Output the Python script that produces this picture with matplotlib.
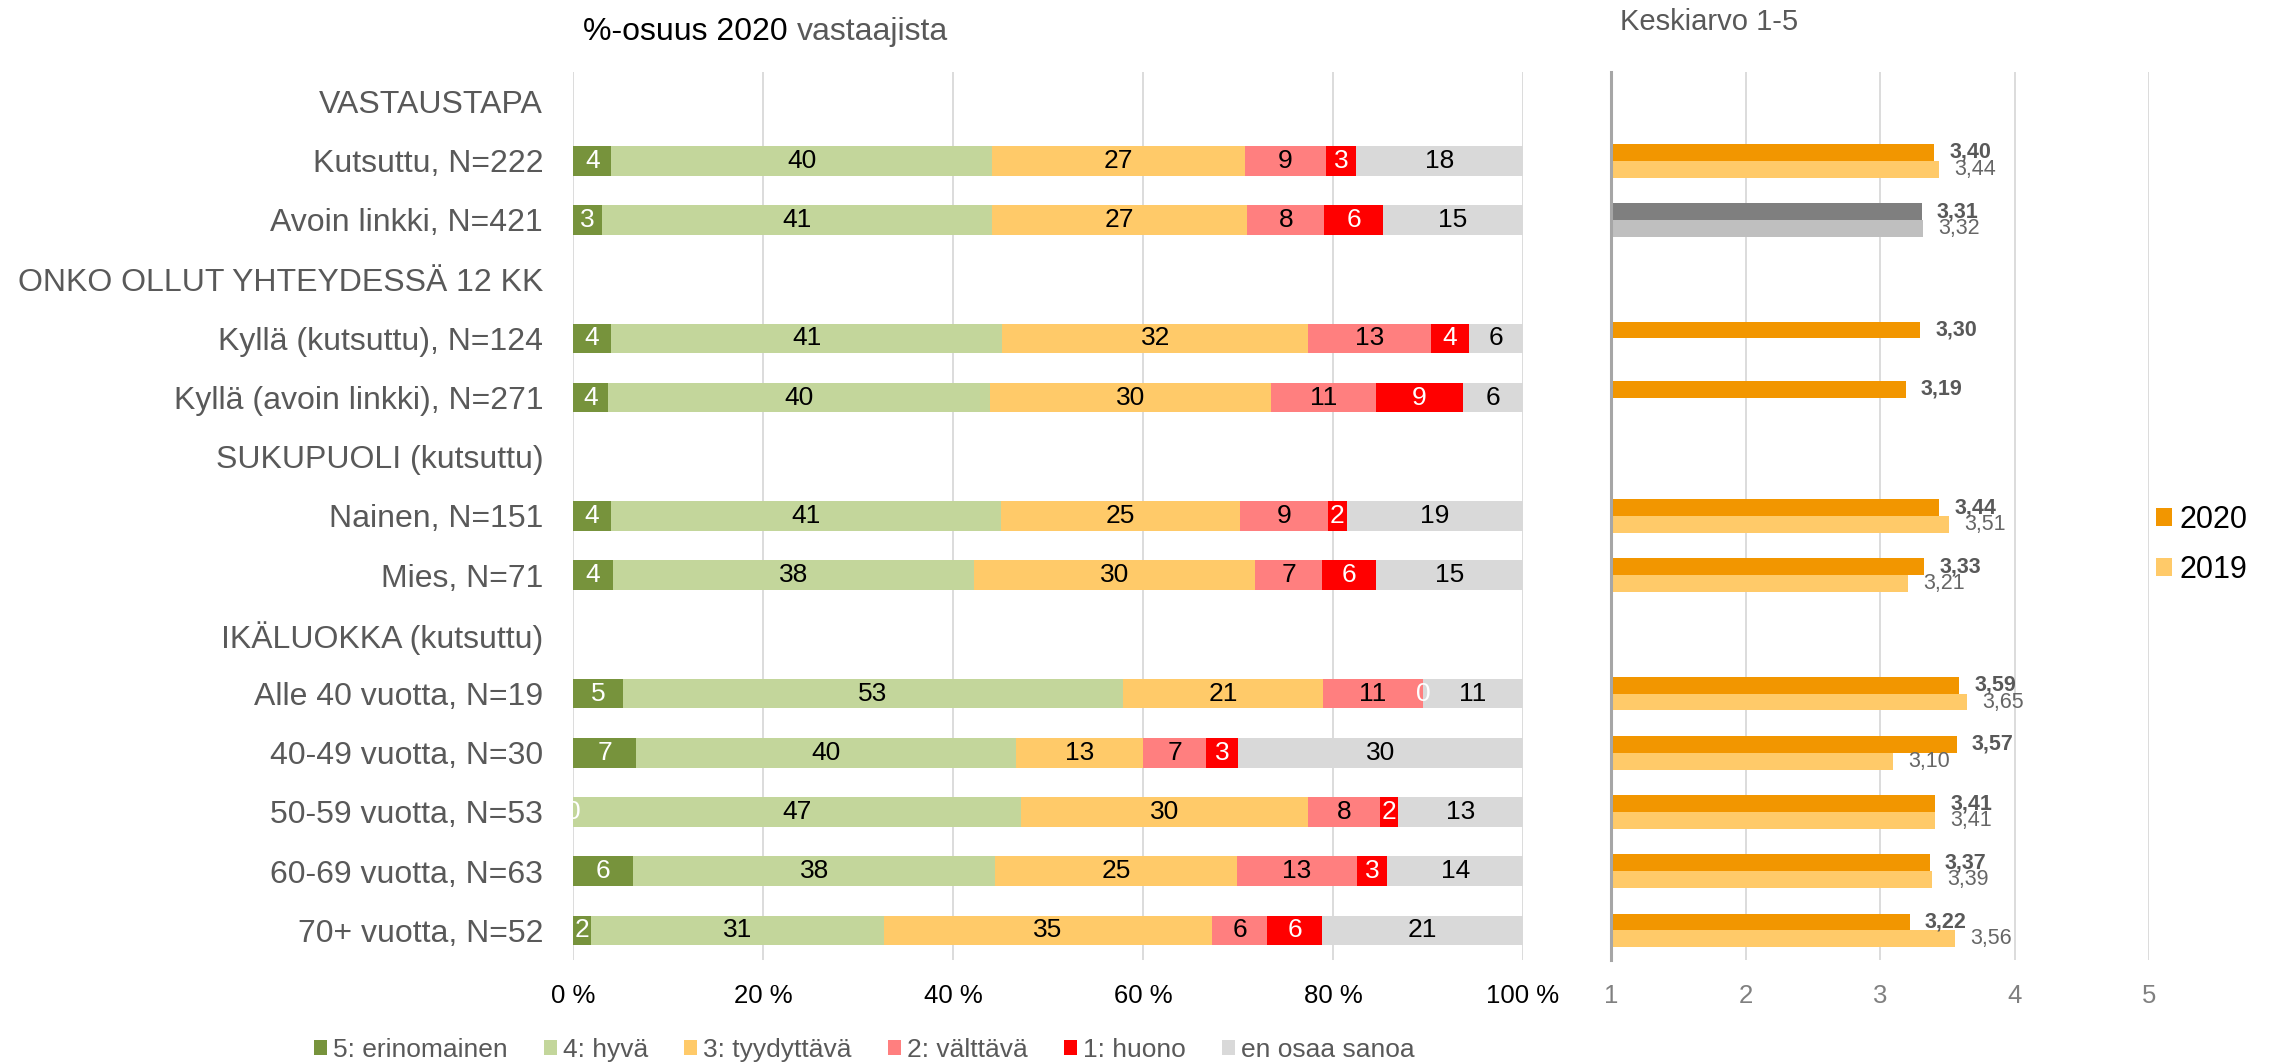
import numpy as np
import matplotlib
matplotlib.use("Agg")
import matplotlib.pyplot as plt
from matplotlib.patches import Patch

plt.rcParams['font.family'] = ['Liberation Sans', 'DejaVu Sans']

# ---------------- data ----------------
row_labels = ["VASTAUSTAPA", "Kutsuttu, N=222", "Avoin linkki, N=421",
              "ONKO OLLUT YHTEYDESSÄ 12 KK", "Kyllä (kutsuttu), N=124",
              "Kyllä (avoin linkki), N=271", "SUKUPUOLI (kutsuttu)",
              "Nainen, N=151", "Mies, N=71", "IKÄLUOKKA (kutsuttu)",
              "Alle 40 vuotta, N=19", "40-49 vuotta, N=30", "50-59 vuotta, N=53",
              "60-69 vuotta, N=63", "70+ vuotta, N=52"]
header_rows = ["VASTAUSTAPA", "ONKO OLLUT YHTEYDESSÄ 12 KK",
               "SUKUPUOLI (kutsuttu)", "IKÄLUOKKA (kutsuttu)"]
categories = [r for r in row_labels if r not in header_rows]

series_names = ["5: erinomainen", "4: hyvä", "3: tyydyttävä", "2: välttävä",
                "1: huono", "en osaa sanoa"]
erinomainen = [4.05, 3.09, 4.03, 3.69, 3.97, 4.23, 5.26, 6.67, 0.0, 6.35, 1.92]
hyva = [40.09, 41.0, 41.13, 40.22, 41.06, 38.03, 52.63, 40.00, 47.17, 38.10, 30.77]
tyydyttava = [26.58, 26.9, 32.26, 29.52, 25.17, 29.58, 21.05, 13.33, 30.19, 25.40, 34.62]
valttava = [8.56, 8.1, 12.90, 11.07, 9.27, 7.04, 10.53, 6.67, 7.55, 12.70, 5.77]
huono = [3.15, 6.2, 4.03, 9.23, 1.99, 5.63, 0.0, 3.33, 1.89, 3.17, 5.77]
eos = [17.57, 14.7, 5.65, 6.27, 18.54, 15.49, 10.53, 30.00, 13.21, 14.29, 21.15]

mean_2020 = [3.40, 3.31, 3.30, 3.19, 3.44, 3.33, 3.59, 3.57, 3.41, 3.37, 3.22]
mean_2019 = [3.44, 3.32, np.nan, np.nan, 3.51, 3.21, 3.65, 3.10, 3.41, 3.39, 3.56]

pct_ticks = [0, 20, 40, 60, 80, 100]
pct_ticklabels = ["0 %", "20 %", "40 %", "60 %", "80 %", "100 %"]
mean_ticks = [1, 2, 3, 4, 5]

# ---------------- style ----------------
seg_colors = ["#77933C", "#C3D69B", "#FFCA69", "#FF7F7F", "#FF0000", "#D9D9D9"]
seg_text = ["white", "black", "black", "black", "white", "black"]
c2020, c2019 = "#F29600", "#FFCA69"
c2020_alt, c2019_alt = "#7F7F7F", "#BFBFBF"   # Avoin linkki
label_gray = "#595959"
grid_col = "#D9D9D9"

W, H = 2283, 1064
fig = plt.figure(figsize=(W / 100, H / 100), dpi=100)

top_px, bot_px = 72, 960
axL = fig.add_axes([573 / W, 1 - bot_px / H, (1523 - 573) / W, (bot_px - top_px) / H])
axR = fig.add_axes([1611 / W, 1 - bot_px / H, (2149 - 1611) / W, (bot_px - top_px) / H])

ypos = np.array([row_labels.index(c) for c in categories], dtype=float)

# ---------- left stacked chart ----------
series = [erinomainen, hyva, tyydyttava, valttava, huono, eos]
left = np.zeros(len(categories))
for vals, col, tcol in zip(series, seg_colors, seg_text):
    vals = np.array(vals, dtype=float)
    bars = axL.barh(ypos, vals, left=left, height=0.5, color=col, edgecolor='none', zorder=2)
    labs = [f"{v:.0f}" for v in vals]
    texts = axL.bar_label(bars, labels=labs, label_type='center', color=tcol,
                          fontsize=19, zorder=4)
    for t in texts:
        t.set_clip_on(True)
    left += vals

axL.set_xlim(0, 100)
axL.set_ylim(len(row_labels) - 0.5, -0.5)
axL.set_xticks(pct_ticks)
axL.set_xticklabels(pct_ticklabels, fontsize=18.5, color="black")
axL.set_yticks(range(len(row_labels)))
axL.set_yticklabels(row_labels, fontsize=23, color=label_gray)
axL.tick_params(axis='y', length=0, pad=21.5)
axL.tick_params(axis='x', length=0, pad=17)
for s in axL.spines.values():
    s.set_visible(False)
axL.grid(axis='x', color=grid_col, linewidth=1.3, zorder=0)
axL.set_axisbelow(True)

# ---------- right mean chart ----------
bh = 0.285
m20 = np.array(mean_2020, dtype=float)
m19 = np.array(mean_2019, dtype=float)
cols20 = [c2020_alt if c.startswith("Avoin") else c2020 for c in categories]
cols19 = [c2019_alt if c.startswith("Avoin") else c2019 for c in categories]
axR.barh(ypos - bh / 2, m20 - 1, left=1, height=bh, color=cols20, edgecolor='none', zorder=2)
ok = ~np.isnan(m19)
axR.barh(ypos[ok] + bh / 2, m19[ok] - 1, left=1, height=bh,
         color=[c for c, k in zip(cols19, ok) if k], edgecolor='none', zorder=2)
for y, v in zip(ypos, m20):
    axR.annotate(f"{v:.2f}".replace('.', ','), (v, y - bh / 2), xytext=(11, 0),
                 textcoords='offset points', ha='left', va='center',
                 fontsize=15.5, fontweight='bold', color=label_gray, zorder=5)
for y, v in zip(ypos[ok], m19[ok]):
    axR.annotate(f"{v:.2f}".replace('.', ','), (v, y + bh / 2), xytext=(11, 0),
                 textcoords='offset points', ha='left', va='center',
                 fontsize=15.5, color="#666666", zorder=5)

axR.set_xlim(1, 5)
axR.set_ylim(len(row_labels) - 0.5, -0.5)
axR.set_xticks(mean_ticks)
axR.set_xticklabels([str(t) for t in mean_ticks], fontsize=18.5, color="#808080")
axR.set_yticks([])
axR.tick_params(axis='x', length=0, pad=17)
for k, s in axR.spines.items():
    s.set_visible(k == 'left')
axR.spines['left'].set_color("#A6A6A6")
axR.spines['left'].set_linewidth(2.2)
axR.spines['left'].set_zorder(3)
axR.grid(axis='x', color=grid_col, linewidth=1.3, zorder=0)
axR.set_axisbelow(True)

# ---------- titles ----------
t1 = fig.text(583 / W, 1 - 32 / H, "%-osuus 2020 ", fontsize=23, color="black", va='center', ha='left')
fig.canvas.draw()
bb = t1.get_window_extent()
fig.text(bb.x1 / W, 1 - 32 / H, "vastaajista", fontsize=23, color=label_gray, va='center', ha='left')
fig.text(1620 / W, 1 - 22 / H, "Keskiarvo 1-5", fontsize=21, color=label_gray, va='center', ha='left')

# ---------- legends ----------
handles = [Patch(facecolor=c, edgecolor='none') for c in seg_colors]
leg1 = fig.legend(handles, series_names, loc='center left', bbox_to_anchor=(314 / W, 1 - 1050 / H),
                  ncol=6, frameon=False, fontsize=19, handlelength=0.5, handleheight=0.5,
                  handletextpad=0.23, columnspacing=1.36, borderaxespad=0, borderpad=0)
for t in leg1.get_texts():
    t.set_color(label_gray)

h2 = [Patch(facecolor=c2020, edgecolor='none'), Patch(facecolor=c2019, edgecolor='none')]
fig.legend(h2, ["2020", "2019"], loc='center left', bbox_to_anchor=(2156 / W, 1 - 545 / H),
           frameon=False, fontsize=22, handlelength=0.53, handleheight=0.53,
           handletextpad=0.23, labelspacing=0.65, borderaxespad=0, borderpad=0)

fig.savefig("out.png", dpi=100)
